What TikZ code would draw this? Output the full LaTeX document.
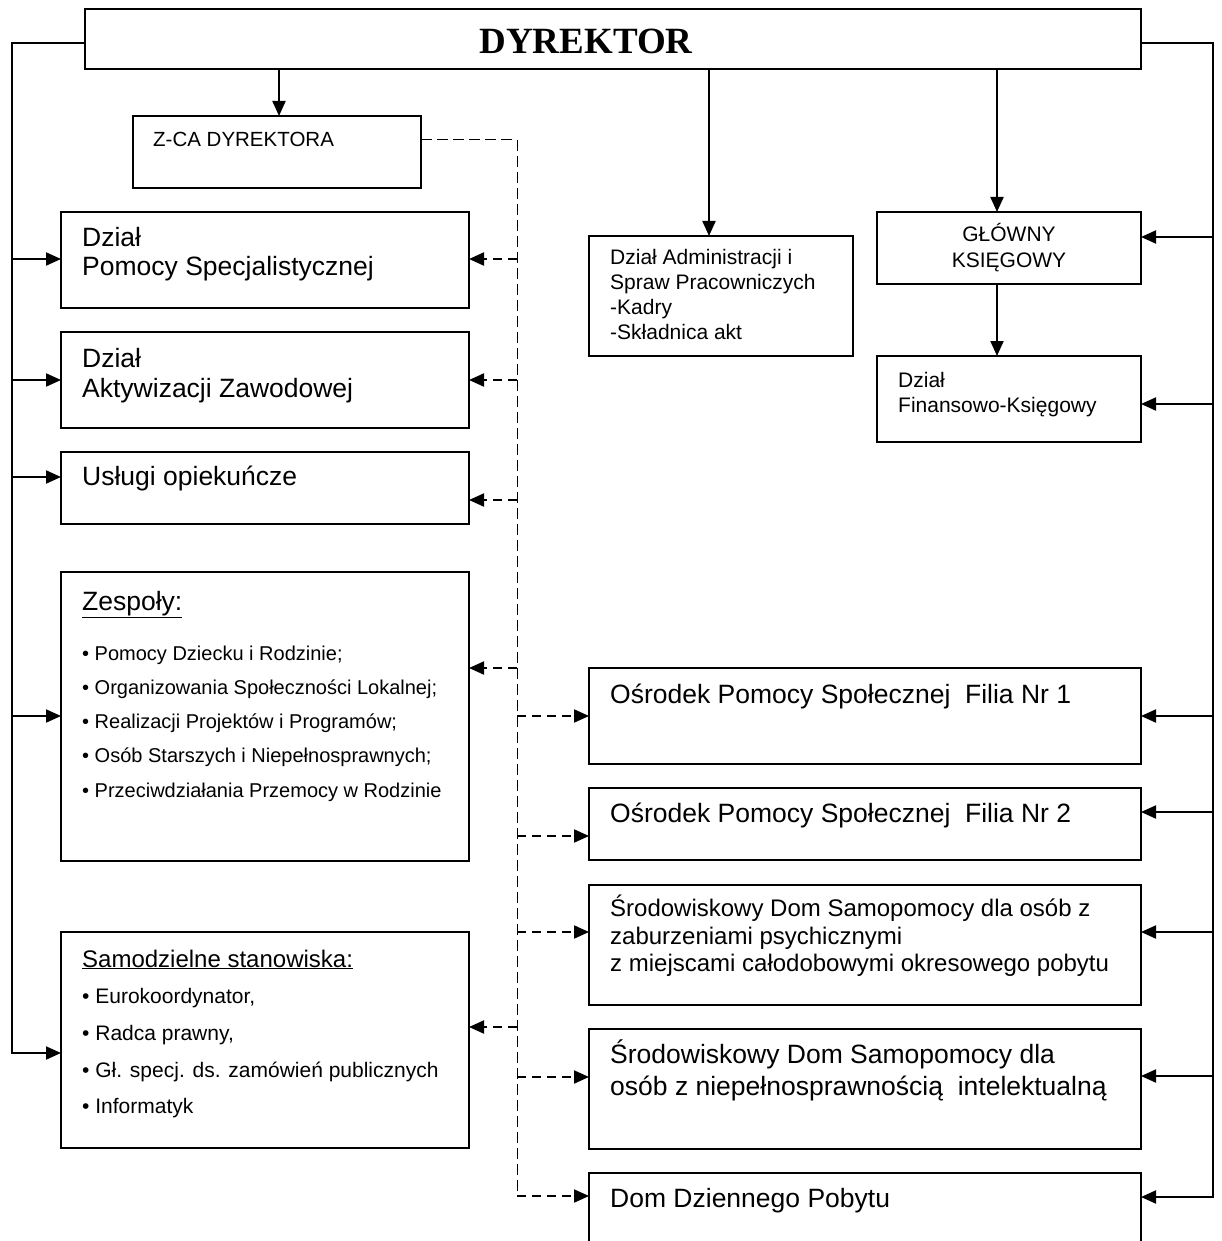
\documentclass[tikz,border=0pt]{standalone}
\usepackage{fontspec}
\setmainfont{Liberation Sans}
\newfontfamily\tnr{Liberation Serif}
\usetikzlibrary{arrows.meta}
\tikzset{
  box/.style={draw, line width=2pt, rectangle, inner sep=0pt, outer sep=0pt, anchor=north west},
  txt/.style={inner sep=0pt, anchor=base west},
  big/.style={txt, font=\fontsize{26.5}{30}\selectfont},
  mid/.style={txt, font=\fontsize{24}{27}\selectfont},
  sml/.style={txt, font=\fontsize{21}{24}\selectfont},
  itm/.style={txt, font=\fontsize{20}{24}\selectfont},
  itmb/.style={txt, font=\fontsize{21}{24}\selectfont},
  line/.style={line width=2pt},
  arr/.style={line width=2pt, -{Triangle[length=15pt,width=13pt]}},
  darr/.style={arr, dash pattern=on 9pt off 6pt},
  tdash/.style={line width=1pt, dash pattern=on 11pt off 5pt},
}
\begin{document}
\begin{tikzpicture}[x=1pt,y=-1pt]
\useasboundingbox (0,0) rectangle (1222,1241);
\clip (0,0) rectangle (1222,1241);
\fill[white] (0,0) rectangle (1222,1241);

% boxes
\node[box, minimum width=1056pt, minimum height=60pt] (dyr) at (85,9) {};
\node[box, minimum width=288pt, minimum height=72pt] (zca) at (133,116) {};
\node[box, minimum width=408pt, minimum height=96pt] (ps) at (61,212) {};
\node[box, minimum width=408pt, minimum height=96pt] (az) at (61,332) {};
\node[box, minimum width=408pt, minimum height=72pt] (usl) at (61,452) {};
\node[box, minimum width=408pt, minimum height=289pt] (zes) at (61,572) {};
\node[box, minimum width=408pt, minimum height=216pt] (sam) at (61,932) {};
\node[box, minimum width=264pt, minimum height=120pt] (adm) at (589,236) {};
\node[box, minimum width=264pt, minimum height=72pt] (gk) at (877,212) {};
\node[box, minimum width=264pt, minimum height=86pt] (fk) at (877,356) {};
\node[box, minimum width=552pt, minimum height=96pt] (f1) at (589,668) {};
\node[box, minimum width=552pt, minimum height=72pt] (f2) at (589,788) {};
\node[box, minimum width=552pt, minimum height=120pt] (sds1) at (589,885) {};
\node[box, minimum width=552pt, minimum height=120pt] (sds2) at (589,1029) {};
\node[box, minimum width=552pt, minimum height=100pt] (dom) at (589,1173) {};

% texts
\node[txt, anchor=base, font=\tnr\bfseries\fontsize{37}{40}\selectfont] (dyrT) at (586,54) {DYREKTOR};
\node[txt, font=\fontsize{20.5}{23}\selectfont] (zcaT) at (153,147) {Z-CA DYREKTORA};

\node[big] (psT1) at (82,247) {Dział};
\node[big] (psT2) at (82,276) {Pomocy Specjalistycznej};
\node[big] (azT1) at (82,367) {Dział};
\node[big] (azT2) at (82,397) {Aktywizacji Zawodowej};
\node[big] (uslT) at (82,485) {Usługi opiekuńcze};

\node[big] (zesT) at (82,610) {\underline{Zespoły:}};
\node[itm] (zesI1) at (82,660) {• Pomocy Dziecku i Rodzinie;};
\node[itm] (zesI2) at (82,694) {• Organizowania Społeczności Lokalnej;};
\node[itm] (zesI3) at (82,728) {• Realizacji Projektów i Programów;};
\node[itm] (zesI4) at (82,762) {• Osób Starszych i Niepełnosprawnych;};
\node[itm] (zesI5) at (82,797) {• Przeciwdziałania Przemocy w Rodzinie};

\node[mid] (samT) at (82,967) {\underline{Samodzielne stanowiska:}};
\node[itmb] (samI1) at (82,1003) {• Eurokoordynator,};
\node[itmb] (samI2) at (82,1040) {• Radca prawny,};
\node[itmb] (samI3) at (82,1077) {• Gł. specj. ds. zamówień publicznych};
\node[itmb] (samI4) at (82,1113) {• Informatyk};

\node[sml] (admT1) at (610,264) {Dział Administracji i};
\node[sml] (admT2) at (610,289) {Spraw Pracowniczych};
\node[sml] (admT3) at (610,314) {-Kadry};
\node[sml] (admT4) at (610,339) {-Składnica akt};

\node[sml, anchor=base] (gkT1) at (1009,242) {GŁÓWNY};
\node[sml, anchor=base] (gkT2) at (1009,267) {KSIĘGOWY};
\node[sml] (fkT1) at (898,387) {Dział};
\node[sml] (fkT2) at (898,412) {Finansowo-Księgowy};

\node[big] (f1T) at (610,703) {Ośrodek Pomocy Społecznej\ \ Filia Nr 1};
\node[big] (f2T) at (610,822) {Ośrodek Pomocy Społecznej\ \ Filia Nr 2};
\node[mid] (s1T1) at (610,916) {Środowiskowy Dom Samopomocy dla osób z};
\node[mid] (s1T2) at (610,944) {zaburzeniami psychicznymi};
\node[mid] (s1T3) at (610,971) {z miejscami całodobowymi okresowego pobytu};
\node[big] (s2T1) at (610,1063) {Środowiskowy Dom Samopomocy dla};
\node[big] (s2T2) at (610,1095) {osób z niepełnosprawnością\ \ intelektualną};
\node[big] (domT) at (610,1207) {Dom Dziennego Pobytu};

% spine coordinates
\coordinate (ltop) at (12,43);
\coordinate (lbot) at (12,1053);
\coordinate (rtop) at (1213,43);
\coordinate (rbot) at (1213,1197);
\coordinate (dtop) at (517,140);
\coordinate (dbot) at (517,1196);

% solid spines with last arrows
\draw[arr] (dyr.west |- ltop) -- (ltop) -- (lbot) -- (sam.west |- lbot);
\draw[arr] (dyr.east |- rtop) -- (rtop) -- (rbot) -- (dom.east |- rbot);

% left arrows
\draw[arr] (ltop |- 0,259) -- (ps.west |- 0,259);
\draw[arr] (ltop |- 0,380) -- (az.west |- 0,380);
\draw[arr] (ltop |- 0,477) -- (usl.west |- 0,477);
\draw[arr] (ltop |- 0,716) -- (zes.west |- 0,716);

% right arrows
\draw[arr] (rtop |- 0,237) -- (gk.east |- 0,237);
\draw[arr] (rtop |- 0,404) -- (fk.east |- 0,404);
\draw[arr] (rtop |- 0,716) -- (f1.east |- 0,716);
\draw[arr] (rtop |- 0,812) -- (f2.east |- 0,812);
\draw[arr] (rtop |- 0,932) -- (sds1.east |- 0,932);
\draw[arr] (rtop |- 0,1076) -- (sds2.east |- 0,1076);

% down arrows
\draw[arr] (dyr.south -| 279,0) -- (zca.north -| 279,0);
\draw[arr] (dyr.south -| 709,0) -- (adm.north -| 709,0);
\draw[arr] (dyr.south -| 997,0) -- (gk.north -| 997,0);
\draw[arr] (gk.south -| 997,0) -- (fk.north -| 997,0);

% thin dashed line from deputy
\draw[tdash] (zca.east |- dtop) -- (dtop) -- (dbot);

% dashed arrows to the left
\draw[darr] (dtop |- 0,259) -- (ps.east |- 0,259);
\draw[darr] (dtop |- 0,380) -- (az.east |- 0,380);
\draw[darr] (dtop |- 0,500) -- (usl.east |- 0,500);
\draw[darr] (dtop |- 0,668) -- (zes.east |- 0,668);
\draw[darr] (dtop |- 0,1027) -- (sam.east |- 0,1027);

% dashed arrows to the right
\draw[darr] (dtop |- 0,716) -- (f1.west |- 0,716);
\draw[darr] (dtop |- 0,836) -- (f2.west |- 0,836);
\draw[darr] (dtop |- 0,932) -- (sds1.west |- 0,932);
\draw[darr] (dtop |- 0,1077) -- (sds2.west |- 0,1077);
\draw[darr] (dbot) -- (dom.west |- dbot);
\end{tikzpicture}
\end{document}
